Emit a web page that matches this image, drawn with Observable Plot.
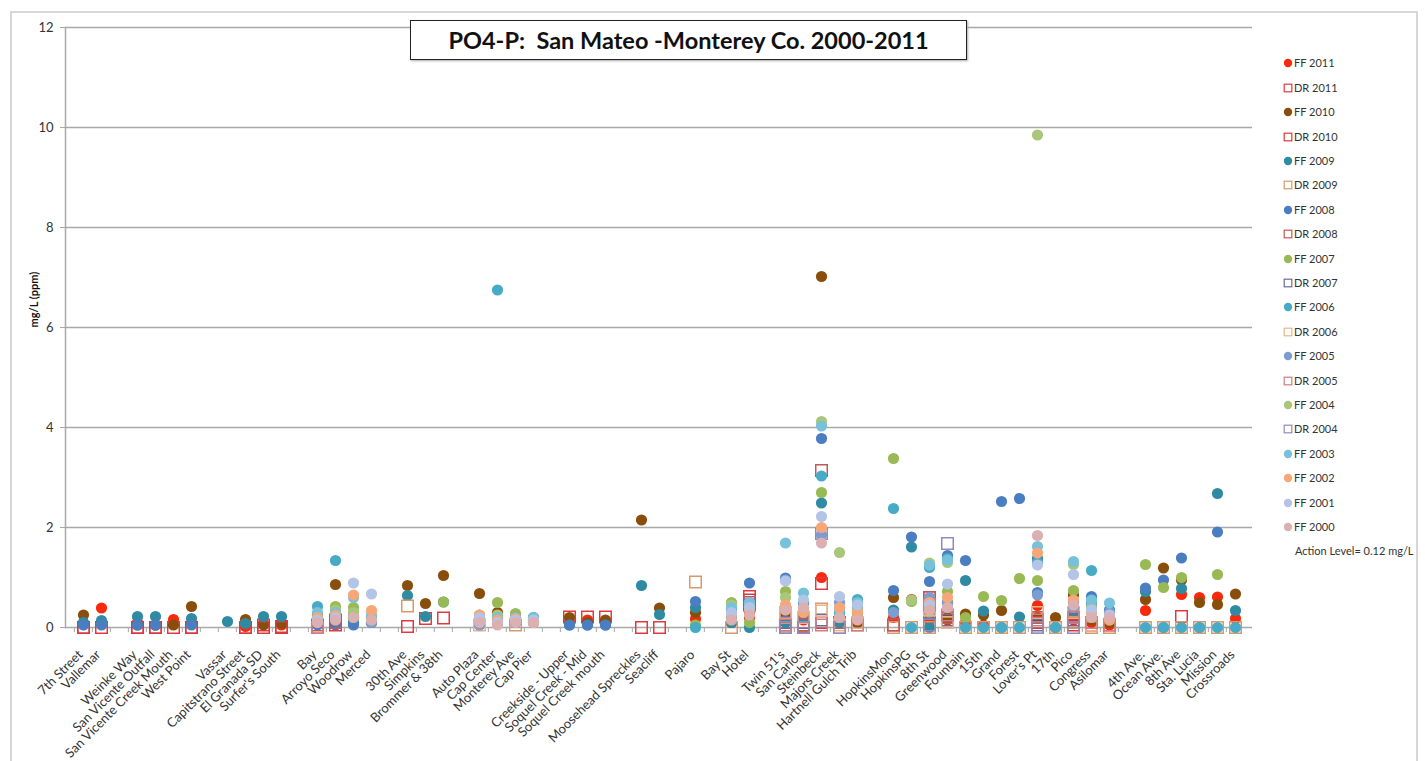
<!DOCTYPE html>
<html><head><meta charset="utf-8">
<script src="https://cdn.jsdelivr.net/npm/d3@7"></script>
<script src="https://cdn.jsdelivr.net/npm/@observablehq/plot@0.6"></script>
<style>
html,body{margin:0;padding:0;background:#fff;}
#wrap{position:relative;width:1425px;height:761px;overflow:hidden;font-family:Lato,sans-serif;}
#chart{position:absolute;left:0;top:0;}
#border{position:absolute;left:10px;top:11px;width:1408px;height:800px;border:2px solid #d6d6d6;box-sizing:border-box;}
#title{position:absolute;left:410px;top:20px;width:557px;height:40px;border:1.5px solid #222;box-sizing:border-box;background:#fff;
  font-weight:bold;font-size:23.5px;color:#111;display:flex;align-items:center;justify-content:center;white-space:pre;box-shadow:1px 1px 2px #aaa;}
.lg{position:absolute;font-size:11px;color:#333;line-height:14px;white-space:nowrap;}
.lm{position:absolute;}
</style></head>
<body><div id="wrap"><div id="border"></div><div id="chart"></div><div id="title">PO4-P:  San Mateo -Monterey Co. 2000-2011</div><div id="legend"></div></div>
<script>
const _ = null;
// x-axis slots ("" = empty category)
const slots = ["7th Street","Vallemar","","Weinke Way","San Vicente Outfall","San Vicente Creek Mouth","West Point","",
 "Vassar","Capitstrano Street","El Granada SD","Surfer's South","","Bay","Arroyo Seco","Woodrow","Merced","",
 "30th Ave","Simpkins","Brommer & 38th","","Auto Plaza","Cap Center","Monterey Ave","Cap Pier","",
 "Creekside - Upper","Soquel Creek - Mid","Soquel Creek mouth","","Moosehead Spreckles","Seacliff","","Pajaro","",
 "Bay St","Hotel","","Twin 51's","San Carlos","Steinbeck","Majors Creek","Hartnell Gulch Trib","",
 "HopkinsMon","HopkinsPG","8th St","Greenwood","Fountain","15th","Grand","Forest","Lover's Pt","17th","Pico","Congress","Asilomar","",
 "4th Ave.","Ocean Ave.","8th Ave","Sta. Lucia","Mission","Crossroads"];
const sites = slots.filter(s => s !== "");
// series values, one per site (53), groups: A10|B4|C3|D4|E3|F2|G1|H2|I5|J13|K6
const FF2011 = [0.08,0.39,0.10,0.05,0.16,0.08,_,0.02,0.08,0.05, _,_,_,_, _,_,_, _,_,_,_, 0.10,0.15,0.12, _,_, 0.17, 0.10,0.20, 0.20,0.15,1.00,0.10,0.10, 0.20,0.56,0.15,0.15,0.10,0.05,_,_,0.44,_,0.15,0.10,0.05, 0.34,_,0.66,0.60,0.61,0.18];
const DR2011 = [0,0,0,0,0,0,_,0,0.05,0.02, 0,0.05,_,_, 0.02,0.18,0.19, _,_,_,_, 0.21,0.21,0.21, 0,0, _, _,0.62, 0.05,0.02,0.88,_,_, 0.05,_,0.60,0.20,_,_,_,_,0.20,_,0.10,0.05,_, _,_,0.22,_,_,_];
const FF2010 = [0.25,_,0.05,0.05,0.05,0.42,_,0.16,0.05,0.08, 0.25,0.86,0.18,0.20, 0.84,0.48,1.04, 0.68,0.30,0.20,0.15, 0.20,0.10,0.15, 2.15,0.39, 0.30, 0.10,0.30, 0.30,0.25,7.02,0.15,0.10, 0.60,_,0.30,0.20,0.27,0.25,0.34,_,0.20,0.20,0.65,0.15,0.10, 0.56,1.19,0.95,0.50,0.46,0.67];
const DR2010 = [0,_,0,0,_,0,_,0,0,0, _,_,_,_, _,_,_, _,_,_,_, _,_,_, _,_, _, _,0.55, 0.10,0.05,0.10,_,_, _,_,0.40,_,_,_,_,_,0.10,_,0.05,_,_, _,_,_,_,_,_];
const FF2009 = [0.10,0.14,0.22,0.22,_,0.18,0.12,0.08,0.22,0.22, 0.10,0.20,0.10,0.10, 0.64,0.22,0.51, 0.10,0.20,0.10,0.20, 0.05,0.05,0.05, 0.84,0.26, 0.40, 0.10,0.00, 0.10,0.20,2.49,0.10,0.30, 0.35,1.61,0.00,0.50,0.94,0.33,0.00,0.21,1.38,0.00,0.30,0.45,0.20, 0.72,0.00,0.78,0.00,2.68,0.34];
const DR2009 = [_,_,_,_,_,_,_,_,_,_, _,_,_,_, 0.43,_,_, _,_,0.05,_, _,_,_, _,_, 0.91, 0.00,_, 0.20,0.10,0.37,0.00,0.05, 0.00,0.00,0.00,0.10,0.00,0.00,0.00,0.00,0.00,0.00,0.10,0.00,0.00, 0.00,0.00,0.00,0.00,0.00,0.00];
const FF2008 = [0.05,0.05,0.05,0.05,_,0.05,_,_,_,_, 0.05,0.05,0.05,0.10, _,_,_, 0.05,0.10,0.10,0.10, 0.05,0.05,0.05, _,_, 0.52, 0.35,0.89, 0.99,0.50,3.78,0.30,0.40, 0.74,1.81,0.92,1.44,1.34,_,2.52,2.58,0.70,_,0.50,0.62,0.35, 0.79,0.95,1.39,_,1.91,_];
const DR2008 = [_,_,_,_,_,_,_,_,_,_, 0.05,0.10,_,_, _,_,_, _,_,_,_, _,_,_, _,_, _, _,0.50, 0.00,0.05,3.14,0.10,_, 0.05,_,0.60,0.20,_,_,_,_,0.20,_,0.20,_,0.05, _,_,_,_,_,_];
const FF2007 = [_,_,_,_,_,_,_,_,_,_, 0.20,0.42,0.40,0.20, _,_,0.51, 0.25,0.50,0.28,0.15, _,_,_, _,_, 0.05, 0.50,0.10, 0.72,0.30,2.70,0.20,0.20, 3.38,0.52,0.30,0.72,0.20,0.62,0.54,0.98,0.94,_,0.74,0.30,0.15, 1.26,0.80,1.00,_,1.06,_];
const DR2007 = [_,_,_,_,_,_,_,_,_,_, _,0.15,_,_, _,_,_, _,_,_,_, _,_,_, _,_, _, _,0.45, 0.10,0.10,0.15,_,_, _,_,0.30,0.15,_,_,_,_,0.05,_,0.15,_,_, _,_,_,_,_,_];
const FF2006 = [_,_,_,_,_,_,_,_,_,_, 0.42,1.34,0.20,0.15, _,_,_, 0.15,6.75,0.20,0.10, _,_,_, _,_, 0.00, 0.20,0.40, 0.35,0.50,3.03,0.30,0.56, 2.38,0.00,1.20,1.38,0.00,0.00,0.00,0.00,1.30,0.00,0.40,1.14,0.30, 0.00,0.00,0.00,0.00,0.00,0.00];
const DR2006 = [_,_,_,_,_,_,_,_,_,_, _,_,_,_, _,_,_, 0.05,_,_,_, _,_,_, _,_, _, _,_, 0.30,0.20,0.33,0.05,0.10, _,_,0.35,0.10,_,_,_,_,0.30,_,0.30,0.05,_, _,_,_,_,_,_];
const FF2005 = [_,_,_,_,_,_,_,_,_,_, 0.10,0.15,0.25,0.10, _,_,_, 0.05,0.15,0.10,0.15, _,_,_, _,_, _, 0.30,0.50, 0.95,0.40,1.85,0.50,0.45, 0.30,_,0.60,0.50,_,_,_,_,0.65,_,0.40,0.50,0.30, _,_,_,_,_,_];
const DR2005 = [_,_,_,_,_,_,_,_,_,_, 0.00,_,_,_, _,_,_, _,_,_,_, _,_,_, _,_, _, _,_, 0.05,0.00,0.05,_,0.05, _,_,0.45,0.25,_,_,_,_,0.15,_,0.20,0.10,0.05, _,_,_,_,_,_];
const FF2004 = [_,_,_,_,_,_,_,_,_,_, 0.15,0.35,0.30,0.15, _,_,_, 0.20,0.25,0.15,0.10, _,_,_, _,_, _, 0.45,0.45, 0.60,0.35,4.12,1.50,0.35, _,0.55,1.29,1.30,_,_,_,_,9.85,_,1.26,0.40,0.20, _,_,_,_,_,_];
const DR2004 = [_,_,_,_,_,_,_,_,_,_, _,_,_,_, _,_,_, _,_,_,_, _,_,_, _,_, _, _,_, 0.00,0.00,1.88,0.00,_, _,_,0.05,1.68,_,_,_,_,0.00,_,0.00,_,_, _,_,_,_,_,_];
const FF2003 = [_,_,_,_,_,_,_,_,_,_, 0.30,0.30,0.60,0.25, _,_,_, 0.15,0.20,0.20,0.20, _,_,_, _,_, _, 0.40,0.50, 1.69,0.69,4.03,0.35,0.50, _,_,1.25,1.35,_,_,_,_,1.62,_,1.32,0.55,0.49, _,_,_,_,_,_];
const FF2002 = [_,_,_,_,_,_,_,_,_,_, 0.20,0.25,0.65,0.34, _,_,_, 0.25,0.15,0.18,0.10, _,_,_, _,_, _, 0.25,0.35, 0.45,0.30,2.00,0.40,0.30, _,_,0.50,0.60,_,_,_,_,1.49,_,0.55,0.30,0.15, _,_,_,_,_,_];
const FF2001 = [_,_,_,_,_,_,_,_,_,_, 0.15,0.20,0.89,0.67, _,_,_, 0.20,0.10,0.15,0.15, _,_,_, _,_, _, 0.30,0.40, 0.93,0.55,2.22,0.62,0.45, _,_,0.45,0.87,_,_,_,_,1.25,_,1.06,0.35,0.25, _,_,_,_,_,_];
const FF2000 = [_,_,_,_,_,_,_,_,_,_, 0.10,0.15,0.20,0.15, _,_,_, 0.10,0.05,0.10,0.10, _,_,_, _,_, _, 0.15,0.25, 0.35,0.40,1.69,0.20,0.15, _,_,0.35,0.40,_,_,_,_,1.84,_,0.45,0.20,0.20, _,_,_,_,_,_];

const seriesNames = ["FF 2011","DR 2011","FF 2010","DR 2010","FF 2009","DR 2009","FF 2008","DR 2008","FF 2007","DR 2007",
  "FF 2006","DR 2006","FF 2005","DR 2005","FF 2004","DR 2004","FF 2003","FF 2002","FF 2001","FF 2000"];
const seriesValues = [FF2011,DR2011,FF2010,DR2010,FF2009,DR2009,FF2008,DR2008,FF2007,DR2007,
  FF2006,DR2006,FF2005,DR2005,FF2004,DR2004,FF2003,FF2002,FF2001,FF2000];
const seriesColors = ["#f8290d","#e2393d","#8a4e0c","#d9383d","#2f8ba3","#d8996b","#4a7ec0","#c05a5a","#98b954","#6e6b99",
  "#47aac6","#eab48a","#7c9dd0","#cf7f82","#a9c77a","#8f8bbf","#78c1da","#f7a677","#b3c4e6","#dcb0b0"];
const yTicks = [0,2,4,6,8,10,12];
const actionNote = "Action Level= 0.12 mg/L";

seriesValues.forEach((a, k) => { if (a.length !== sites.length) throw new Error(seriesNames[k] + " length " + a.length); });

const slotOf = sites.map(s => slots.indexOf(s));
const rows = [];
seriesValues.forEach((vals, k) => vals.forEach((v, i) => {
  if (v != null) rows.push({k, name: seriesNames[k], slot: slotOf[i], v});
}));

const W = 1425, H = 761;
const mL = 65, mR = 173;
const bw = (W - mL - mR) / slots.length;

const dotMarks = seriesNames.map((name, k) => {
  const dr = name.startsWith("DR");
  return Plot.dot(rows.filter(r => r.k === k), {
    x: "slot", y: "v",
    r: dr ? 6.5 : 5.6,
    symbol: dr ? "square" : "circle",
    fill: dr ? "none" : seriesColors[k],
    stroke: dr ? seriesColors[k] : "none",
    strokeWidth: dr ? 1.5 : 0
  });
});

const chart = Plot.plot({
  width: W, height: H,
  marginLeft: mL, marginRight: mR, marginTop: 27, marginBottom: 134,
  style: {fontFamily: "Lato, sans-serif", background: "transparent"},
  x: {type: "band", domain: d3.range(slots.length), padding: 0, axis: null, label: null},
  y: {domain: [0, 12], axis: null, label: null},
  marks: [
    Plot.gridY(yTicks, {stroke: "#a9a9a9", strokeOpacity: 1, strokeWidth: 1.5}),
    Plot.axisY(yTicks, {label: null, tickSize: 5, tickPadding: 7, fontSize: 13, stroke: "#a9a9a9", fill: "#333", tickFormat: d => String(d)}),
    Plot.frame({anchor: "left", stroke: "#a9a9a9", strokeWidth: 1.5}),
    Plot.axisX({label: null, tickSize: 5, stroke: "#a9a9a9", dx: -bw / 2, tickFormat: () => ""}),
    Plot.axisX({label: null, tickSize: 0, tickPadding: 25, dx: -3, tickRotate: -45, fontSize: 13, fill: "#333", tickFormat: i => slots[i]}),
    ...dotMarks,
    Plot.text(["mg/L (ppm)"], {frameAnchor: "left", dx: -31, rotate: -90, fontWeight: "bold", fontSize: 11, fill: "#111"})
  ]
});
document.getElementById("chart").appendChild(chart);

// legend
const lg = document.getElementById("legend");
const step = 24.4, y0 = 63.3;
seriesNames.forEach((name, k) => {
  const cy = y0 + k * step;
  const dr = name.startsWith("DR");
  const m = document.createElementNS("http://www.w3.org/2000/svg", "svg");
  m.setAttribute("width", 12); m.setAttribute("height", 12);
  m.setAttribute("class", "lm");
  m.style.left = (1288 - 6) + "px"; m.style.top = (cy - 6) + "px";
  m.innerHTML = dr
    ? `<rect x="2.2" y="2.2" width="7.6" height="7.6" fill="none" stroke="${seriesColors[k]}" stroke-width="1.2"/>`
    : `<circle cx="6" cy="6" r="4.2" fill="${seriesColors[k]}"/>`;
  lg.appendChild(m);
  const t = document.createElement("div");
  t.className = "lg"; t.textContent = name;
  t.style.left = "1294px"; t.style.top = (cy - 7) + "px";
  lg.appendChild(t);
});
const note = document.createElement("div");
note.className = "lg"; note.textContent = actionNote;
note.style.left = "1295px"; note.style.top = (y0 + 20 * step - 7) + "px";
lg.appendChild(note);
</script>
</body></html>
